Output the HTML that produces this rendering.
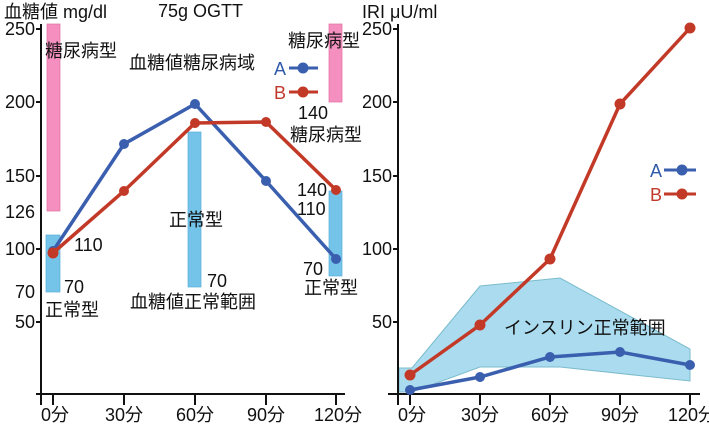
<!DOCTYPE html>
<html><head><meta charset="utf-8"><style>
html,body{margin:0;padding:0;background:#fff;width:709px;height:424px;overflow:hidden}
text{font-family:"Liberation Sans","Noto Sans CJK JP",sans-serif;fill:#111}
</style></head><body>
<svg width="709" height="424" viewBox="0 0 709 424" xmlns="http://www.w3.org/2000/svg">
<g font-size="18">
<rect x="47" y="24" width="13" height="187" fill="#f48fc0" stroke="#e070a0" stroke-width="0.7"/>
<rect x="329" y="24" width="13" height="78" fill="#f48fc0" stroke="#e070a0" stroke-width="0.7"/>
<rect x="46" y="235" width="14" height="57" fill="#74c4ea" stroke="#5aaed8" stroke-width="0.7"/>
<rect x="188" y="132" width="13" height="155" fill="#74c4ea" stroke="#5aaed8" stroke-width="0.7"/>
<rect x="329" y="191" width="13" height="85" fill="#74c4ea" stroke="#5aaed8" stroke-width="0.7"/>
<g stroke="#111" stroke-width="2" fill="none">
<line x1="41" y1="24" x2="41" y2="405"/>
<line x1="36" y1="394" x2="345" y2="394"/>
<line x1="36" y1="29" x2="41" y2="29"/><line x1="36" y1="102" x2="41" y2="102"/>
<line x1="36" y1="176" x2="41" y2="176"/><line x1="36" y1="249" x2="41" y2="249"/>
<line x1="36" y1="322" x2="41" y2="322"/>
<line x1="53" y1="394" x2="53" y2="405"/><line x1="124" y1="394" x2="124" y2="405"/>
<line x1="195" y1="394" x2="195" y2="405"/><line x1="266" y1="394" x2="266" y2="405"/>
<line x1="336" y1="394" x2="336" y2="405"/>
</g>
<g text-anchor="end">
<text x="35" y="35">250</text><text x="35" y="108">200</text><text x="35" y="182">150</text>
<text x="35" y="218">126</text><text x="35" y="255">100</text><text x="35" y="298">70</text><text x="35" y="328">50</text>
</g>
<g text-anchor="middle">
<text x="55" y="421">0分</text><text x="124" y="421">30分</text><text x="195" y="421">60分</text>
<text x="266" y="421">90分</text><text x="338" y="421">120分</text>
</g>
<text x="4" y="18">血糖値 mg/dl</text>
<text x="158" y="17">75g OGTT</text>
<text x="45" y="57">糖尿病型</text>
<text x="288" y="47">糖尿病型</text>
<text x="129" y="69">血糖値糖尿病域</text>
<text x="290" y="141">糖尿病型</text>
<text x="298" y="119">140</text>
<text x="297" y="196">140</text><text x="297" y="215">110</text>
<text x="303" y="275">70</text><text x="304" y="294">正常型</text>
<text x="74" y="251">110</text><text x="64" y="293">70</text><text x="45" y="316">正常型</text>
<text x="169" y="226">正常型</text><text x="207" y="287">70</text>
<text x="130" y="308">血糖値正常範囲</text>
<text x="274" y="75" style="fill:#2f5aa8">A</text>
<line x1="289" y1="68" x2="318" y2="68" stroke="#3a5fae" stroke-width="3"/><circle cx="303" cy="68" r="5.5" fill="#3a5fae"/>
<text x="274" y="99" style="fill:#c0392b">B</text>
<line x1="289" y1="92" x2="318" y2="92" stroke="#c23a27" stroke-width="3"/><circle cx="303" cy="92" r="5.5" fill="#c23a27"/>
<polyline points="53,251 124,144 195,104 266,181 336,259" fill="none" stroke="#3a5fae" stroke-width="3.5"/>
<g fill="#3a5fae"><circle cx="53" cy="251" r="5"/><circle cx="124" cy="144" r="5"/><circle cx="195" cy="104" r="5"/><circle cx="266" cy="181" r="5"/><circle cx="336" cy="259" r="5"/></g>
<polyline points="53,253 124,191 195,123 266,122 336,190" fill="none" stroke="#c23a27" stroke-width="3.5"/>
<g fill="#c23a27"><circle cx="53" cy="253" r="5.5"/><circle cx="124" cy="191" r="5"/><circle cx="195" cy="123" r="5"/><circle cx="266" cy="122" r="5"/><circle cx="336" cy="190" r="5"/></g>

<polygon points="399,368 412,368 480,286 560,278 690,349 690,381 560,367 480,367 412,392 399,392" fill="#aadbef" stroke="#7bbccc" stroke-width="1"/>
<g stroke="#111" stroke-width="2" fill="none">
<line x1="398" y1="24" x2="398" y2="405"/>
<line x1="388" y1="394" x2="700" y2="394"/>
<line x1="393" y1="29" x2="398" y2="29"/><line x1="393" y1="102" x2="398" y2="102"/>
<line x1="393" y1="176" x2="398" y2="176"/><line x1="393" y1="249" x2="398" y2="249"/>
<line x1="393" y1="322" x2="398" y2="322"/>
<line x1="410" y1="394" x2="410" y2="405"/><line x1="480" y1="394" x2="480" y2="405"/>
<line x1="550" y1="394" x2="550" y2="405"/><line x1="620" y1="394" x2="620" y2="405"/>
<line x1="690" y1="394" x2="690" y2="405"/>
</g>
<g text-anchor="end">
<text x="392" y="35">250</text><text x="392" y="108">200</text><text x="392" y="182">150</text>
<text x="392" y="255">100</text><text x="392" y="328">50</text>
</g>
<g text-anchor="middle">
<text x="412" y="421">0分</text><text x="480" y="421">30分</text><text x="550" y="421">60分</text>
<text x="620" y="421">90分</text><text x="692" y="421">120分</text>
</g>
<text x="362" y="18">IRI μU/ml</text>
<text x="504" y="334">インスリン正常範囲</text>
<text x="650" y="177" style="fill:#2f5aa8">A</text>
<line x1="664" y1="170" x2="696" y2="170" stroke="#3a5fae" stroke-width="3"/><circle cx="682" cy="170" r="5.5" fill="#3a5fae"/>
<text x="650" y="201" style="fill:#c0392b">B</text>
<line x1="664" y1="194" x2="696" y2="194" stroke="#c23a27" stroke-width="3"/><circle cx="682" cy="194" r="5.5" fill="#c23a27"/>
<polyline points="410,390 480,377 550,357 620,352 690,365" fill="none" stroke="#3a5fae" stroke-width="3.5"/>
<g fill="#3a5fae"><circle cx="410" cy="390" r="5"/><circle cx="480" cy="377" r="5"/><circle cx="550" cy="357" r="5"/><circle cx="620" cy="352" r="5"/><circle cx="690" cy="365" r="5"/></g>
<polyline points="410,375 480,325 550,259 620,104 690,28" fill="none" stroke="#c23a27" stroke-width="3.5"/>
<g fill="#c23a27"><circle cx="410" cy="375" r="5.5"/><circle cx="480" cy="325" r="5.5"/><circle cx="550" cy="259" r="5.5"/><circle cx="620" cy="104" r="5.5"/><circle cx="690" cy="28" r="5.5"/></g>
</g>
</svg>
</body></html>
